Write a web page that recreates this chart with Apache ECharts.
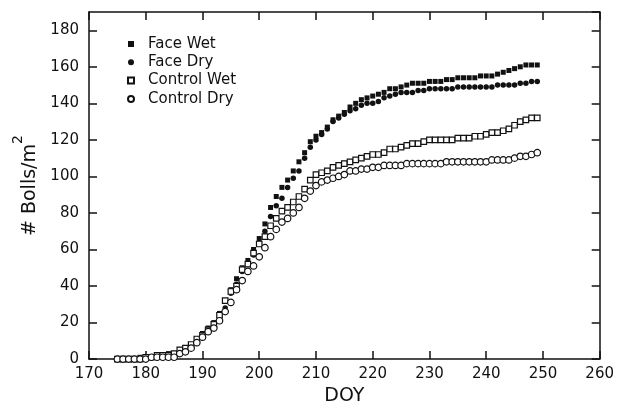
<!DOCTYPE html>
<html>
<head>
<meta charset="utf-8">
<script src="https://cdn.jsdelivr.net/npm/echarts@6/dist/echarts.min.js"></script>
<style>
html,body{margin:0;padding:0;background:#fff;}
#chart{width:617px;height:411px;}
</style>
</head>
<body>
<div id="chart"></div>
<script>
// Day of year (DOY) 175..249
const days = [
  175,176,177,178,179,180,181,182,183,184,
  185,186,187,188,189,190,191,192,193,194,
  195,196,197,198,199,200,201,202,203,204,
  205,206,207,208,209,210,211,212,213,214,
  215,216,217,218,219,220,221,222,223,224,
  225,226,227,228,229,230,231,232,233,234,
  235,236,237,238,239,240,241,242,243,244,
  245,246,247,248,249
];
const faceWet = [
  0,0,0,0,1,1,1,2,2,3,
  3,5,6,8,11,14,17,20,25,32,
  38,44,50,54,60,66,74,83,89,94,
  98,103,108,113,119,122,124,127,131,133,
  135,138,140,142,143,144,145,146,148,148,
  149,150,151,151,151,152,152,152,153,153,
  154,154,154,154,155,155,155,156,157,158,
  159,160,161,161,161
];
const faceDry = [
  0,0,0,0,0,1,1,1,1,2,
  2,4,5,7,9,13,16,19,23,28,
  36,41,48,52,57,63,70,78,84,88,
  94,99,103,110,116,120,123,126,130,132,
  134,136,137,139,140,140,141,143,144,145,
  146,146,146,147,147,148,148,148,148,148,
  149,149,149,149,149,149,149,150,150,150,
  150,151,151,152,152
];
const controlWet = [
  0,0,0,0,0,1,1,2,2,2,
  3,5,6,8,11,13,16,19,24,32,
  37,40,49,52,58,63,67,73,77,81,
  83,86,89,93,98,101,102,103,105,106,
  107,108,109,110,111,112,112,113,115,115,
  116,117,118,118,119,120,120,120,120,120,
  121,121,121,122,122,123,124,124,125,126,
  128,130,131,132,132
];
const controlDry = [
  0,0,0,0,0,0,1,1,1,1,
  1,3,4,6,9,12,15,17,21,26,
  31,38,43,48,51,56,61,67,71,75,
  77,80,83,88,92,95,97,98,99,100,
  101,103,103,104,104,105,105,106,106,106,
  106,107,107,107,107,107,107,107,108,108,
  108,108,108,108,108,108,109,109,109,109,
  110,111,111,112,113
];
const seriesNames = ['Face Wet','Face Dry','Control Wet','Control Dry'];
const xTicks = {min:170, max:260, interval:10};
const yTicks = {min:0, max:190, interval:20};

const FONT = 'DejaVu Sans';
const INK = '#111';

function pts(vals){ return days.map((d,i)=>[d, vals[i]]); }

const axisLine = {show:true, onZero:false, lineStyle:{color:INK, width:1.5}};
const tick = {show:true, inside:true, length:8, lineStyle:{color:INK, width:1.5}};

const chart = echarts.init(document.getElementById('chart'), null, {renderer:'canvas'});
chart.setOption({
  backgroundColor:'#fff',
  animation:false,
  textStyle:{fontFamily:FONT},
  grid:{left:89, right:6, top:12, bottom:49, containLabel:false},
  legend:{
    orient:'vertical', left:122, top:30,
    itemWidth:6, itemHeight:6, itemGap:0.3,
    data:seriesNames,
    textStyle:{fontFamily:FONT, fontSize:15, color:INK, lineHeight:18, padding:[0,0,0,9]}
  },
  xAxis:[{
    type:'value', min:xTicks.min, max:xTicks.max, interval:xTicks.interval,
    axisLine:axisLine, axisTick:tick, splitLine:{show:false},
    axisLabel:{fontFamily:FONT, fontSize:15, color:INK, margin:8},
    name:'DOY', nameLocation:'middle', nameGap:24,
    nameTextStyle:{fontFamily:FONT, fontSize:19, color:INK}
  },{
    type:'value', position:'top', min:xTicks.min, max:xTicks.max, interval:xTicks.interval,
    axisLine:axisLine, axisTick:tick, splitLine:{show:false}, axisLabel:{show:false}
  }],
  yAxis:[{
    type:'value', min:yTicks.min, max:yTicks.max, interval:yTicks.interval,
    axisLine:axisLine, axisTick:tick, splitLine:{show:false},
    axisLabel:{fontFamily:FONT, fontSize:15, color:INK, margin:10, showMaxLabel:false},
    name:'{n|# Bolls/m}{s|2}', nameLocation:'middle', nameGap:47,
    nameTextStyle:{
      fontFamily:FONT, color:INK,
      rich:{
        n:{fontFamily:FONT, fontSize:19, color:INK, lineHeight:28, verticalAlign:'bottom'},
        s:{fontFamily:FONT, fontSize:14, color:INK, verticalAlign:'top'}
      }
    }
  },{
    type:'value', position:'right', min:yTicks.min, max:yTicks.max, interval:yTicks.interval,
    axisLine:axisLine, axisTick:tick, splitLine:{show:false}, axisLabel:{show:false}
  }],
  series:[
    {name:seriesNames[0], type:'scatter', data:pts(faceWet), symbol:'rect', symbolSize:5,
      itemStyle:{color:INK, opacity:1}},
    {name:seriesNames[1], type:'scatter', data:pts(faceDry), symbol:'circle', symbolSize:5.5,
      itemStyle:{color:INK, opacity:1}},
    {name:seriesNames[2], type:'scatter', data:pts(controlWet), symbol:'rect', symbolSize:5.5,
      itemStyle:{color:'#fff', borderColor:INK, borderWidth:1.2, opacity:1}},
    {name:seriesNames[3], type:'scatter', data:pts(controlDry), symbol:'circle', symbolSize:6.5,
      itemStyle:{color:'#fff', borderColor:INK, borderWidth:1.2, opacity:1}}
  ]
});
</script>
</body>
</html>
